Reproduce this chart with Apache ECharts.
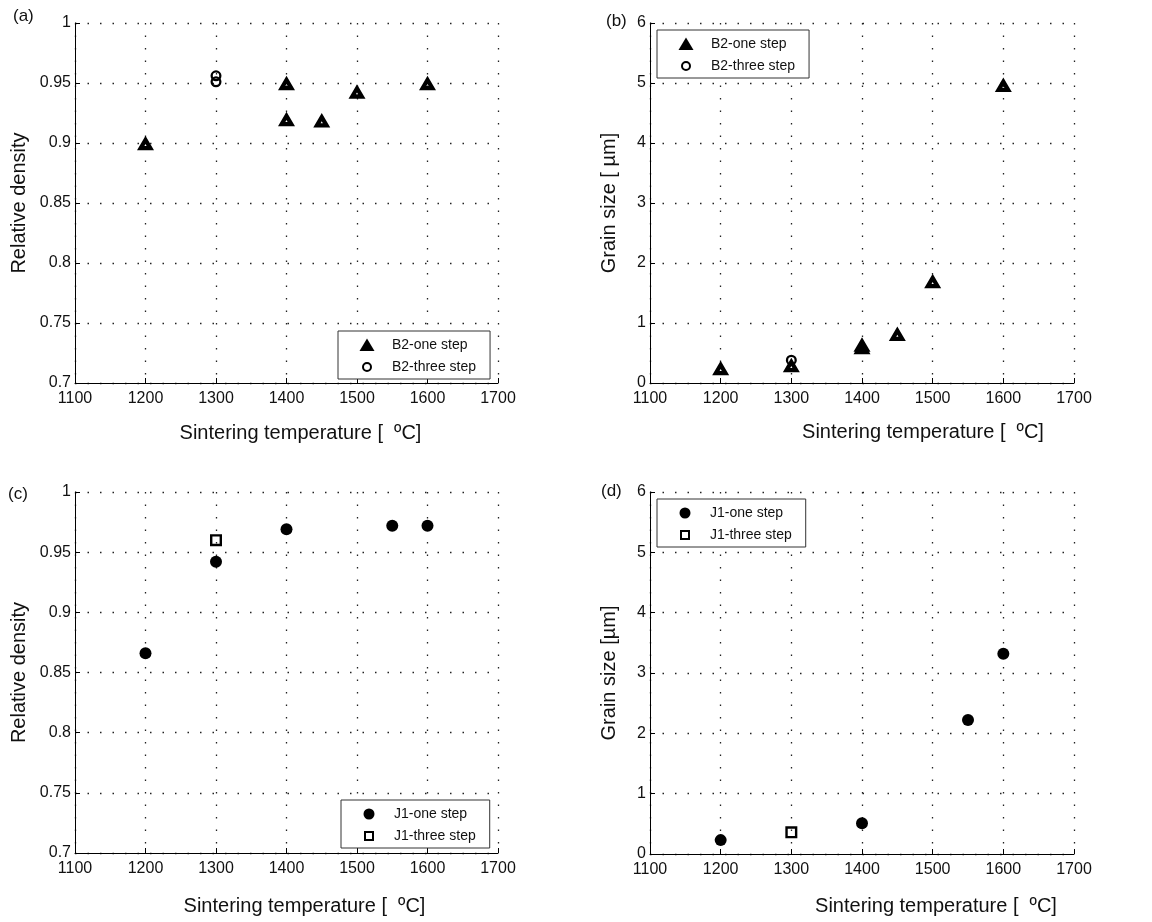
<!DOCTYPE html>
<html>
<head>
<meta charset="utf-8">
<script src="https://cdn.jsdelivr.net/npm/echarts@6/dist/echarts.min.js"></script>
<style>
  html, body { margin: 0; padding: 0; background: #fff; }
  #chart { width: 1152px; height: 922px; }
</style>
</head>
<body>
<div id="chart"></div>
<script>
// x axis ticks (sintering temperature, ºC)
const tempMin = 1100
const tempMax = 1700

// (a) B2 relative density
const b2OneDensityT = [1200, 1400, 1400, 1450, 1500, 1600]
const b2OneDensity = [0.900, 0.950, 0.920, 0.919, 0.943, 0.950]
const b2ThreeDensityT = [1300, 1300]
const b2ThreeDensity = [0.956, 0.951]

// (b) B2 grain size
const b2OneGrainT = [1200, 1300, 1400, 1400, 1450, 1500, 1600]
const b2OneGrain = [0.25, 0.3, 0.6, 0.64, 0.82, 1.7, 4.97]
const b2ThreeGrainT = [1300]
const b2ThreeGrain = [0.38]

// (c) J1 relative density
const j1OneDensityT = [1200, 1300, 1400, 1550, 1600]
const j1OneDensity = [0.866, 0.942, 0.969, 0.972, 0.972]
const j1ThreeDensityT = [1300]
const j1ThreeDensity = [0.960]

// (d) J1 grain size
const j1OneGrainT = [1200, 1400, 1550, 1600]
const j1OneGrain = [0.23, 0.51, 2.22, 3.32]
const j1ThreeGrainT = [1300]
const j1ThreeGrain = [0.36]

const FONT = '"Liberation Sans", Arial, Helvetica, sans-serif'
const zip = (xs, ys) => xs.map((x, i) => [x, ys[i]])

// marker shapes: thick-edged triangle with a tiny white centre, rings and a hollow square
const triPath = 'path://M-8.5,7 L0,-7.5 L8.5,7 Z M0,0.8 L-1.1,2.7 L1.1,2.7 Z'
const ringPath = 'path://M0,-5.5 A5.5,5.5 0 1,1 0,5.5 A5.5,5.5 0 1,1 0,-5.5 Z M0,-3.2 A3.2,3.2 0 1,0 0,3.2 A3.2,3.2 0 1,0 0,-3.2 Z'
const boxPath = 'path://M-6,-6 L6,-6 L6,6 L-6,6 Z M-3.6,-3.6 L-3.6,3.6 L3.6,3.6 L3.6,-3.6 Z'

// legend icons (extra M points keep the padding box so icons keep their size)
const iconTri = 'path://M-8,-7 M8,7 M-7.5,6 L0,-6.5 L7.5,6 Z'
const iconRing = 'path://M-7,-7 M7,7 M0,-5 A5,5 0 1,1 0,5 A5,5 0 1,1 0,-5 Z M0,-3 A3,3 0 1,0 0,3 A3,3 0 1,0 0,-3 Z'
const iconDot = 'path://M-7,-7 M7,7 M0,-5.5 A5.5,5.5 0 1,1 0,5.5 A5.5,5.5 0 1,1 0,-5.5 Z'
const iconBox = 'path://M-7,-7 M7,7 M-5,-5 L5,-5 L5,5 L-5,5 Z M-3,-3 L-3,3 L3,3 L3,-3 Z'

const grids = [
  { left: 75, top: 23, width: 423, height: 360 },
  { left: 650, top: 23, width: 424, height: 360 },
  { left: 75, top: 492, width: 423, height: 361 },
  { left: 650, top: 492, width: 424, height: 362 }
]

const dotted = { color: '#222', width: 1.3, type: [1.5, 11] }

function xAxisFor(i, gap, shift) {
  return {
    type: 'value',
    gridIndex: i,
    min: tempMin,
    max: tempMax,
    interval: 100,
    name: 'Sintering temperature [  ºC]',
    nameLocation: 'middle',
    nameGap: gap,
    nameTextStyle: { fontFamily: FONT, fontSize: 20, color: '#111', padding: [0, 0, 0, shift * 2] },
    axisLine: { show: true, onZero: false, lineStyle: { color: '#000', width: 1 } },
    axisTick: { show: true, inside: true, length: 5, lineStyle: { color: '#000' } },
    axisLabel: { fontFamily: FONT, fontSize: 16, color: '#111', margin: 8, formatter: v => String(v) },
    splitLine: { show: true, lineStyle: dotted }
  }
}

function yAxisFor(i, min, max, interval, name, gap) {
  return {
    type: 'value',
    gridIndex: i,
    min: min,
    max: max,
    interval: interval,
    name: name,
    nameLocation: 'middle',
    nameGap: gap,
    nameTextStyle: { fontFamily: FONT, fontSize: 20, color: '#111' },
    axisLine: { show: true, onZero: false, lineStyle: { color: '#000', width: 1 } },
    axisTick: { show: true, inside: true, length: 5, lineStyle: { color: '#000' } },
    axisLabel: { fontFamily: FONT, fontSize: 16, color: '#111', margin: 4 },
    splitLine: { show: true, lineStyle: dotted }
  }
}

// marker styles
const markStyle = { color: '#000', opacity: 1, borderWidth: 0 }
const triStyle = { type: 'scatter', symbol: triPath, symbolSize: [17, 14.5], itemStyle: markStyle }
const ringStyle = { type: 'scatter', symbol: ringPath, symbolSize: 11, itemStyle: markStyle }
const dotStyle = { type: 'scatter', symbol: 'circle', symbolSize: 12, itemStyle: markStyle }
const boxStyle = { type: 'scatter', symbol: boxPath, symbolSize: 12, itemStyle: markStyle }

function legendFor(pos, names, icons) {
  return Object.assign({
    orient: 'vertical',
    itemWidth: 30,
    itemHeight: 14,
    itemGap: 8,
    padding: [7, 14, 5, 21],
    borderColor: '#333',
    borderWidth: 1,
    backgroundColor: '#fff',
    selectedMode: false,
    textStyle: { fontFamily: FONT, fontSize: 14, color: '#111', padding: [0, 0, 0, 5] },
    data: names.map((n, k) => ({ name: n, icon: icons[k], itemStyle: { color: '#000', opacity: 1, borderWidth: 0 } }))
  }, pos)
}

const panelLabel = (text, x, y) => ({
  type: 'text',
  left: x,
  top: y,
  style: { text: text, fontFamily: FONT, fontSize: 17, fill: '#111' }
})

const option = {
  animation: false,
  backgroundColor: '#fff',
  grid: grids,
  xAxis: [
    xAxisFor(0, 40, 14),
    xAxisFor(1, 39, 61),
    xAxisFor(2, 43, 18),
    xAxisFor(3, 42, 74)
  ],
  yAxis: [
    yAxisFor(0, 0.7, 1, 0.05, 'Relative density', 46),
    yAxisFor(1, 0, 6, 1, 'Grain size [ µm]', 31),
    yAxisFor(2, 0.7, 1, 0.05, 'Relative density', 46),
    yAxisFor(3, 0, 6, 1, 'Grain size [µm]', 31)
  ],
  legend: [
    legendFor({ left: 338, top: 331 }, ['B2-one step', 'B2-three step'], [iconTri, iconRing]),
    legendFor({ left: 657, top: 30 }, ['B2-one step', 'B2-three step'], [iconTri, iconRing]),
    legendFor({ left: 341, top: 800 }, ['J1-one step', 'J1-three step'], [iconDot, iconBox]),
    legendFor({ left: 657, top: 499 }, ['J1-one step', 'J1-three step'], [iconDot, iconBox])
  ],
  graphic: [
    panelLabel('(a)', 13, 8),
    panelLabel('(b)', 606, 13),
    panelLabel('(c)', 8, 486),
    panelLabel('(d)', 601, 483)
  ],
  series: [
    Object.assign({ name: 'B2-one step', xAxisIndex: 0, yAxisIndex: 0, data: zip(b2OneDensityT, b2OneDensity) }, triStyle),
    Object.assign({ name: 'B2-three step', xAxisIndex: 0, yAxisIndex: 0, data: zip(b2ThreeDensityT, b2ThreeDensity) }, ringStyle),
    Object.assign({ name: 'B2-one step', xAxisIndex: 1, yAxisIndex: 1, data: zip(b2OneGrainT, b2OneGrain) }, triStyle),
    Object.assign({ name: 'B2-three step', xAxisIndex: 1, yAxisIndex: 1, data: zip(b2ThreeGrainT, b2ThreeGrain) }, ringStyle),
    Object.assign({ name: 'J1-one step', xAxisIndex: 2, yAxisIndex: 2, data: zip(j1OneDensityT, j1OneDensity) }, dotStyle),
    Object.assign({ name: 'J1-three step', xAxisIndex: 2, yAxisIndex: 2, data: zip(j1ThreeDensityT, j1ThreeDensity) }, boxStyle),
    Object.assign({ name: 'J1-one step', xAxisIndex: 3, yAxisIndex: 3, data: zip(j1OneGrainT, j1OneGrain) }, dotStyle),
    Object.assign({ name: 'J1-three step', xAxisIndex: 3, yAxisIndex: 3, data: zip(j1ThreeGrainT, j1ThreeGrain) }, boxStyle)
  ]
}

const myChart = echarts.init(document.getElementById('chart'), null, { renderer: 'canvas' })
myChart.setOption(option)
</script>
</body>
</html>
